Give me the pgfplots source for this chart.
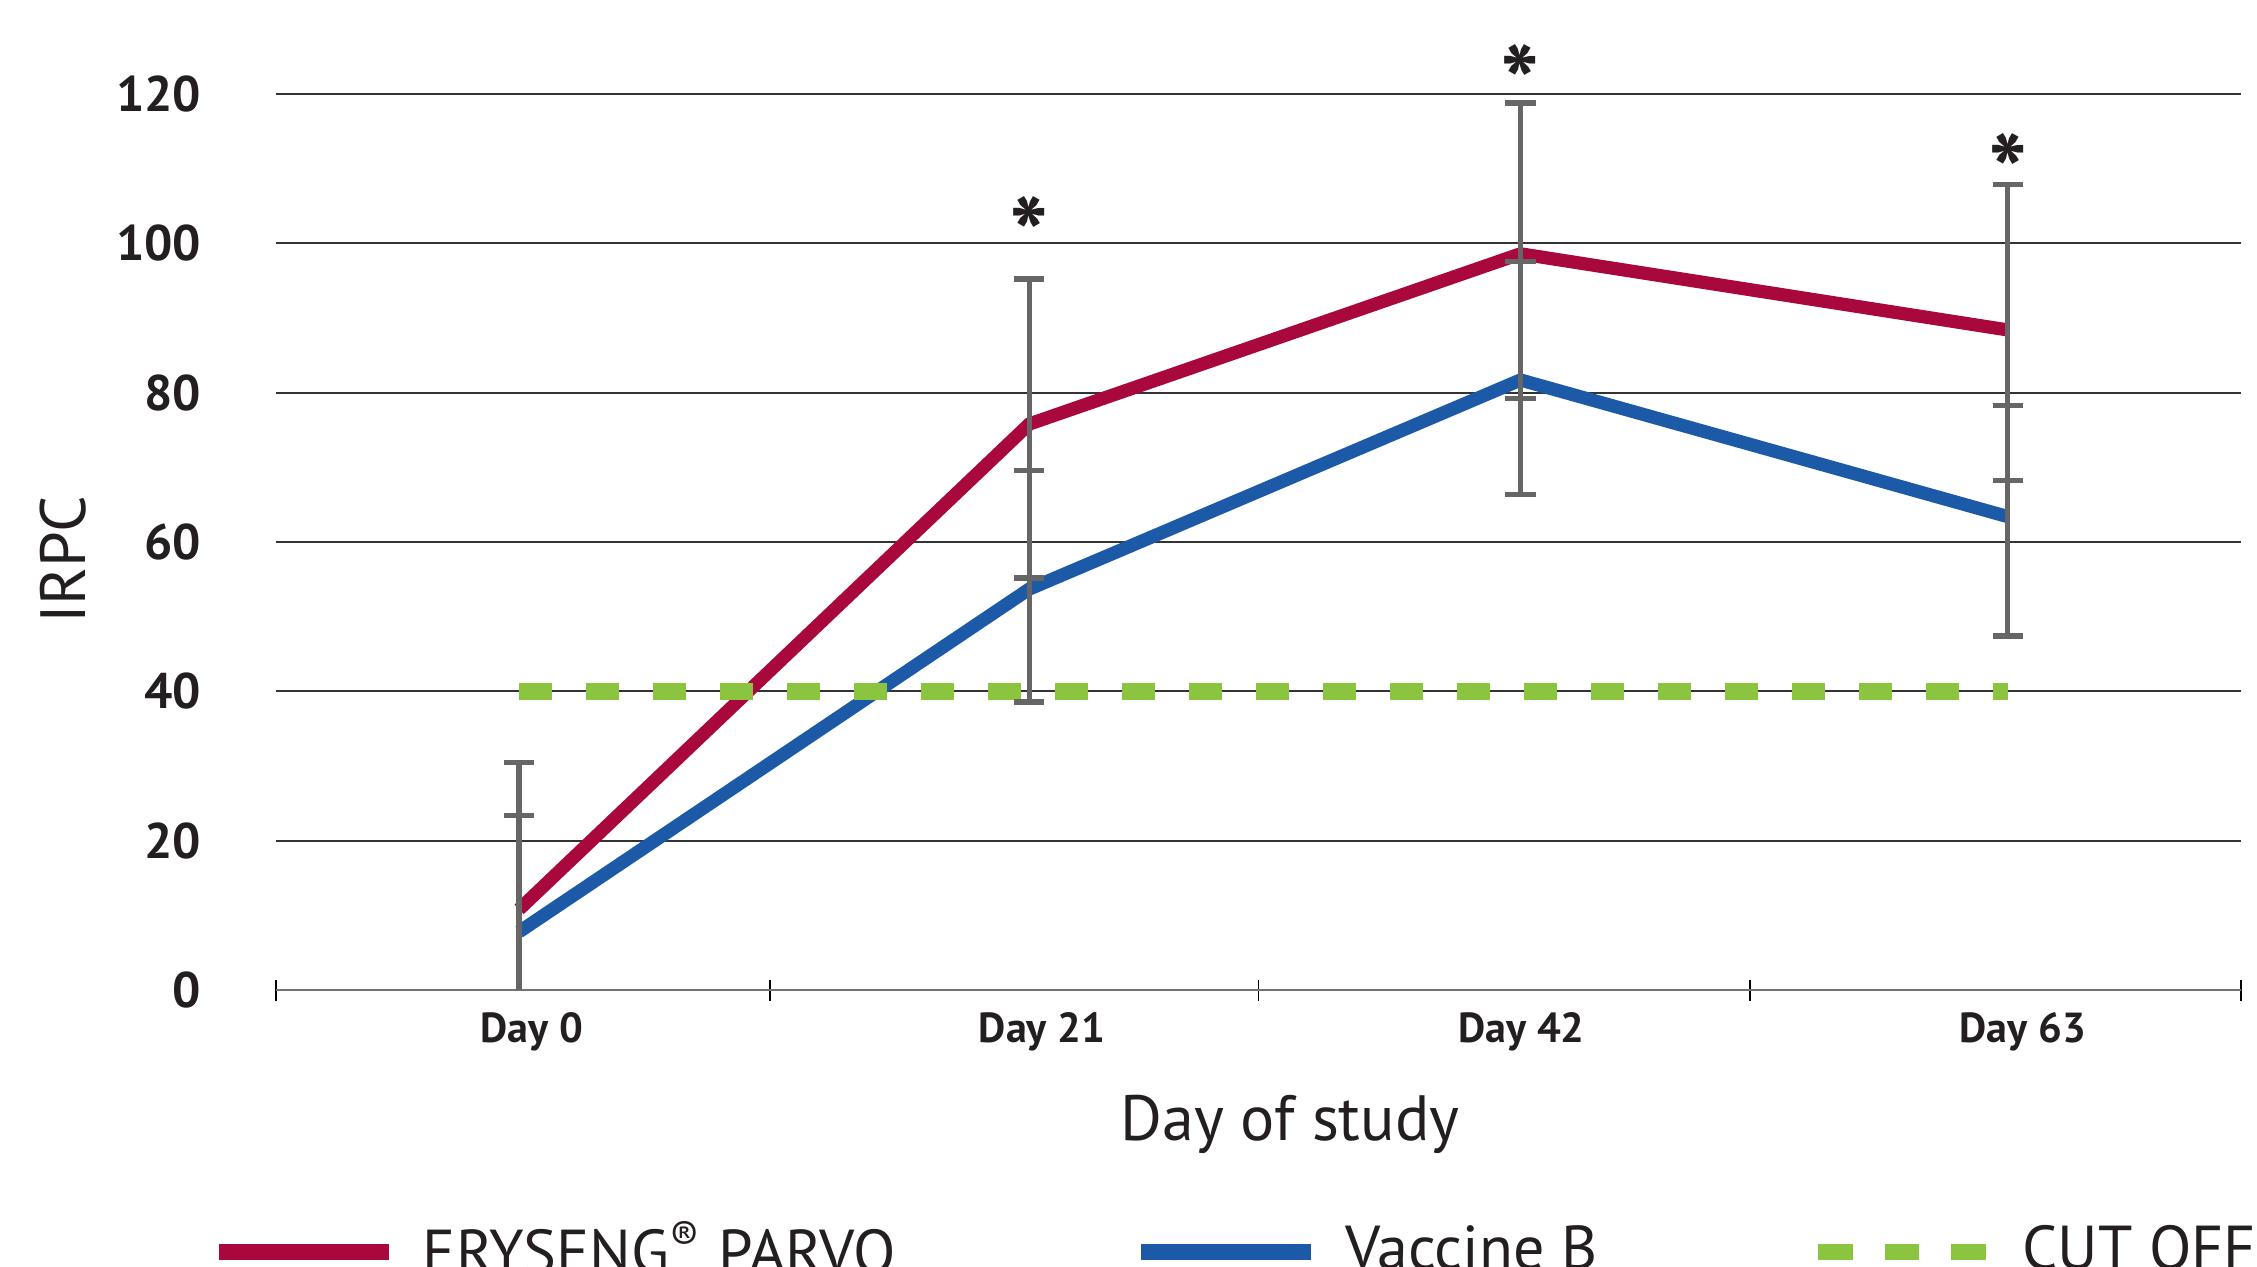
\documentclass[border=0pt]{standalone}
\usepackage{fontspec}
\setmainfont{PT Sans}
\usepackage{pgfplots}
\pgfplotsset{compat=1.18}
\definecolor{cred}{RGB}{168,8,60}
\definecolor{cblue}{RGB}{28,90,168}
\definecolor{cgreen}{RGB}{139,197,63}
\definecolor{cgray}{RGB}{102,102,102}
\definecolor{ctext}{RGB}{35,31,32}
\pgfplotsset{
  barleg/.style={legend image code/.code={\draw[##1, line width=4pt] (0pt,-0.2pt) -- (42.5pt,-0.2pt);}},
  dashleg/.style={legend image code/.code={\draw[##1, line width=4pt, dash pattern=on 8.6pt off 8pt] (0pt,-0.2pt) -- (42.5pt,-0.2pt);}},
  ebars/.style={forget plot, draw=none, mark=none,
    error bars/y explicit,
    error bars/error bar style={draw=cgray, line width=1.35pt},
    error bars/error mark options={draw=cgray, line width=1.35pt, rotate=90, mark size=3.8pt}},
}
\begin{document}
\begin{tikzpicture}
\useasboundingbox (-69pt,-69pt) rectangle (495.25pt,247.5pt);
\begin{axis}[
  at={(0,0)}, anchor=south west,
  width=491.25pt, height=224pt, scale only axis,
  xmin=-0.49, xmax=3.47, ymin=0, ymax=120,
  clip=false,
  axis x line*=bottom, axis y line*=left,
  x axis line style={draw=black!55, line width=0.7pt, -},
  y axis line style={draw=none},
  xtick={0.026,1.054,2.02,3.03}, xticklabels={Day 0, Day 21, Day 42, Day 63},
  minor xtick={-0.49,0.505,1.49,2.48,3.47},
  major tick length=0pt, minor tick length=5.25pt, tick align=center,
  minor tick style={black, line width=0.4pt},
  ytick={0,20,...,120},
  ymajorgrids, grid style={black!80, line width=0.45pt},
  /pgf/number format/assume math mode=true,
  x tick label style={font=\bfseries\fontsize{10.5}{12}\selectfont, text=ctext, inner sep=0pt, anchor=north, yshift=-5.5pt},
  y tick label style={font=\bfseries\fontsize{12.5}{14}\selectfont, text=ctext, inner sep=0pt, anchor=east, xshift=-18.5pt},
  xlabel={Day of study},
  xlabel style={at={(axis description cs:0.516,-0.116)}, anchor=north, inner sep=0pt, font=\fontsize{16}{19}\selectfont, text=ctext},
  ylabel={IRPC},
  ylabel style={at={(axis description cs:-0.1084,0.48)}, anchor=center, inner sep=0pt, font=\fontsize{16}{19}\selectfont, text=ctext},
  legend style={at={(axis description cs:-0.0336,-0.2578)}, anchor=north west, draw=none, fill=none, inner sep=0pt,
    column sep=0pt, /tikz/every odd column/.append style={column sep=6.5pt},
    font=\fontsize{15.5}{18}\selectfont, text=ctext, nodes={inner sep=0pt}},
  legend columns=3,
  legend cell align=left,
]
\addplot[cred, line width=3.3pt, barleg]
  coordinates {(0,10.8) (1.028,75.8) (2.018,98.6) (3,88.4)};
\addlegendentry{\makebox[177.6pt][l]{ERYSENG\textsuperscript{®} PARVO}}
\addplot[cblue, line width=3.3pt, barleg]
  coordinates {(0,7.8) (1.028,53.7) (2.018,81.7) (3,63.4)};
\addlegendentry{\makebox[116.3pt][l]{Vaccine B}}
\addplot[cgreen, line width=4.4pt, dash pattern=on 8.25pt off 8.5pt, dashleg]
  coordinates {(0,40) (3,40)};
\addlegendentry{CUT OFF}
% error bars, days 21-63
\addplot[ebars, error bars/y dir=both]
  coordinates {
  (1.028,75.8) += (0,19.4) -= (0,20.6)
  (2.018,98.6) += (0,20.2) -= (0,19.4)
  (3,88.4) += (0,19.5) -= (0,20.2)
  (1.028,53.7) += (0,15.9) -= (0,15.1)
  (2.018,81.7) += (0,15.9) -= (0,15.3)
  (3,63.4) += (0,14.9) -= (0,16.0)
  };
% error bars, day 0 (lower part reaches the axis, no cap)
\addplot[ebars, error bars/y dir=plus]
  coordinates {
  (0,10.8) += (0,19.7) -= (0,0)
  (0,7.8) += (0,15.6) -= (0,0)
  };
\addplot[ebars, error bars/y dir=minus, error bars/error mark=none]
  coordinates {
  (0,10.8) += (0,0) -= (0,10.8)
  };
\node[font=\bfseries\fontsize{26}{26}\selectfont, text=ctext, anchor=north, inner sep=0pt] at (axis cs:1.028,106.4) {*};
\node[font=\bfseries\fontsize{26}{26}\selectfont, text=ctext, anchor=north, inner sep=0pt] at (axis cs:2.018,126.8) {*};
\node[font=\bfseries\fontsize{26}{26}\selectfont, text=ctext, anchor=north, inner sep=0pt] at (axis cs:3,114.8) {*};
\end{axis}
\end{tikzpicture}
\end{document}
